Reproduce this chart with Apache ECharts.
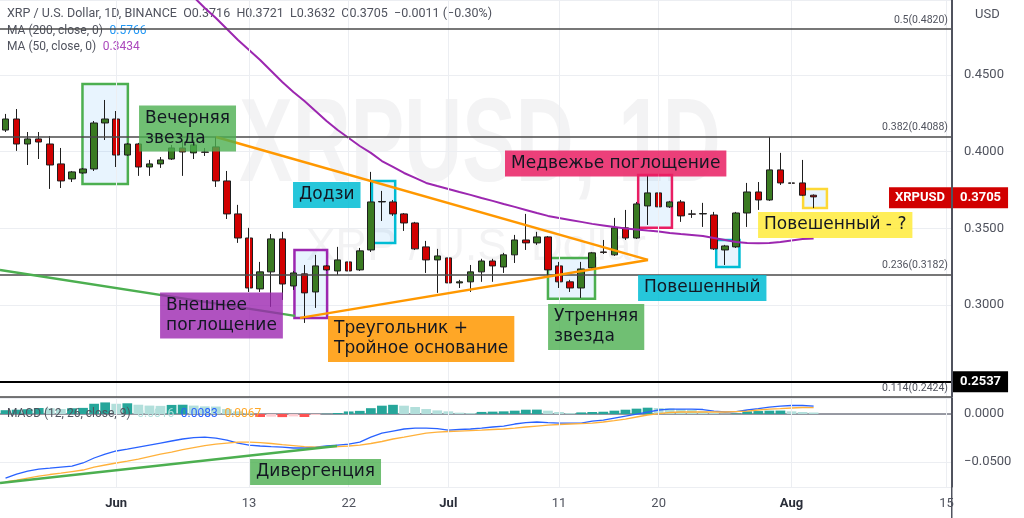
<!DOCTYPE html>
<html>
<head>
<meta charset="utf-8">
<title>XRPUSD 1D</title>
<script src="https://cdn.jsdelivr.net/npm/echarts@6/dist/echarts.min.js"></script>
<style>
html,body{margin:0;padding:0;background:#fff}
#chart{width:1024px;height:518px}
</style>
</head>
<body>
<div id="chart"></div>
<script>
// дневные свечи XRP/USD, первая свеча 22 мая, ось до 15 августа
const startDate = '2022-05-22'
const dayCount = 86

const opens = [0.4141,0.4213,0.4050,0.4083,0.4050,0.3920,0.3822,0.3861,0.3887,0.4187,
  0.4213,0.3978,0.4050,0.3900,0.3920,0.3952,0.4024,0.3992,0.3998,0.4031,
  0.3809,0.3594,0.3437,0.3105,0.3216,0.3431,0.3124,0.3203,0.3085,0.3255,
  0.3222,0.3281,0.3229,0.3359,0.3672,0.3672,0.3594,0.3535,0.3379,0.3294,
  0.3307,0.3144,0.3151,0.3216,0.3287,0.3248,0.3327,0.3424,0.3405,0.3444,
  0.3255,0.3151,0.3111,0.3242,0.3346,0.3327,0.3503,0.3437,0.3646,0.3731,
  0.3640,0.3672,0.3594,0.3594,0.3587,0.3359,0.3379,0.3600,0.3737,0.3685,
  0.3881,0.3796,0.3796,0.3716]
const closes = [0.4213,0.4050,0.4083,0.4063,0.3913,0.3809,0.3868,0.3887,0.4187,0.4213,
  0.3978,0.4050,0.3900,0.3920,0.3946,0.4024,0.3998,0.4044,0.3996,0.3809,
  0.3594,0.3437,0.3111,0.3216,0.3431,0.3137,0.3209,0.3079,0.3255,0.3229,
  0.3294,0.3222,0.3353,0.3672,0.3675,0.3594,0.3535,0.3366,0.3294,0.3320,
  0.3144,0.3151,0.3216,0.3287,0.3255,0.3327,0.3424,0.3405,0.3444,0.3229,
  0.3151,0.3111,0.3235,0.3340,0.3343,0.3503,0.3437,0.3659,0.3731,0.3640,
  0.3672,0.3581,0.3592,0.3596,0.3366,0.3385,0.3600,0.3737,0.3685,0.3881,
  0.3796,0.3794,0.3716,0.3705]
const lows = [0.4128,0.4005,0.3913,0.3952,0.3757,0.3763,0.3802,0.3855,0.3874,0.4076,
  0.3900,0.3972,0.3842,0.3842,0.3894,0.3946,0.3842,0.3952,0.3972,0.3770,
  0.3561,0.3405,0.3085,0.3085,0.2988,0.3033,0.3098,0.2883,0.2981,0.3222,
  0.3196,0.3196,0.3222,0.3346,0.3548,0.3581,0.3483,0.3359,0.3209,0.3079,
  0.3118,0.3111,0.3085,0.3151,0.3151,0.3209,0.3274,0.3359,0.3392,0.3183,
  0.3111,0.3085,0.3046,0.3229,0.3333,0.3320,0.3424,0.3431,0.3522,0.3587,
  0.3633,0.3542,0.3568,0.3509,0.3359,0.3261,0.3372,0.3509,0.3620,0.3679,
  0.3783,0.3718,0.3710,0.3632]
const highs = [0.4246,0.4278,0.4128,0.4128,0.4102,0.4024,0.3874,0.3894,0.4200,0.4337,
  0.4265,0.4057,0.4057,0.3946,0.3965,0.4044,0.4076,0.4076,0.4024,0.4096,
  0.3874,0.3653,0.3503,0.3281,0.3463,0.3477,0.3222,0.3261,0.3327,0.3261,
  0.3379,0.3287,0.3372,0.3868,0.3744,0.3685,0.3600,0.3542,0.3418,0.3366,
  0.3366,0.3164,0.3261,0.3301,0.3301,0.3340,0.3457,0.3594,0.3477,0.3450,
  0.3281,0.3164,0.3281,0.3346,0.3424,0.3568,0.3620,0.3672,0.3848,0.3816,
  0.3679,0.3685,0.3620,0.3666,0.3607,0.3392,0.3607,0.3796,0.3802,0.4096,
  0.3992,0.3868,0.3946,0.3721]

// MA 50 (начало выше видимой области)
const ma50 = [null,null,null,null,null,null,null,null,null,null,
  null,null,0.5380,0.5300,0.5230,0.5158,0.5080,0.5008,0.4937,0.4872,
  0.4800,0.4728,0.4663,0.4598,0.4526,0.4454,0.4389,0.4330,0.4265,0.4200,
  0.4141,0.4089,0.4037,0.3992,0.3939,0.3900,0.3861,0.3829,0.3796,0.3776,
  0.3757,0.3737,0.3718,0.3698,0.3679,0.3659,0.3640,0.3620,0.3600,0.3581,
  0.3568,0.3555,0.3542,0.3529,0.3519,0.3509,0.3499,0.3493,0.3486,0.3480,
  0.3470,0.3463,0.3457,0.3450,0.3437,0.3424,0.3411,0.3405,0.3402,0.3405,
  0.3411,0.3421,0.3431,0.3434]
const ma200Last = 0.5766

// MACD (12, 26, close, 9)
const macdLine = [-0.0667,-0.0625,-0.0594,-0.0573,-0.0563,-0.0552,-0.0542,-0.0510,-0.0458,-0.0417,
  -0.0385,-0.0365,-0.0344,-0.0323,-0.0302,-0.0281,-0.0260,-0.0245,-0.0240,-0.0250,
  -0.0271,-0.0302,-0.0323,-0.0333,-0.0339,-0.0344,-0.0354,-0.0354,-0.0344,-0.0333,
  -0.0323,-0.0313,-0.0292,-0.0240,-0.0198,-0.0177,-0.0156,-0.0146,-0.0146,-0.0151,
  -0.0167,-0.0161,-0.0156,-0.0146,-0.0135,-0.0125,-0.0104,-0.0089,-0.0083,-0.0089,
  -0.0094,-0.0094,-0.0094,-0.0073,-0.0063,-0.0042,-0.0021,0.0000,0.0021,0.0042,
  0.0052,0.0052,0.0052,0.0047,0.0031,0.0021,0.0026,0.0042,0.0057,0.0073,
  0.0083,0.0089,0.0089,0.0083]
const signalLine = [-0.0708,-0.0688,-0.0667,-0.0646,-0.0630,-0.0615,-0.0599,-0.0583,-0.0552,-0.0531,
  -0.0510,-0.0490,-0.0469,-0.0443,-0.0417,-0.0396,-0.0370,-0.0349,-0.0328,-0.0313,
  -0.0302,-0.0292,-0.0292,-0.0297,-0.0307,-0.0318,-0.0328,-0.0339,-0.0344,-0.0344,
  -0.0339,-0.0333,-0.0323,-0.0307,-0.0286,-0.0260,-0.0240,-0.0219,-0.0198,-0.0188,
  -0.0182,-0.0177,-0.0172,-0.0167,-0.0161,-0.0156,-0.0146,-0.0135,-0.0125,-0.0115,
  -0.0109,-0.0104,-0.0099,-0.0094,-0.0083,-0.0068,-0.0052,-0.0031,-0.0010,0.0005,
  0.0016,0.0021,0.0021,0.0021,0.0021,0.0021,0.0026,0.0031,0.0042,0.0052,
  0.0057,0.0063,0.0068,0.0067]
const histogram = [0.0040,0.0045,0.0050,0.0063,0.0060,0.0052,0.0060,0.0064,0.0107,0.0121,
  0.0107,0.0112,0.0097,0.0088,0.0085,0.0095,0.0097,0.0088,0.0080,0.0078,
  0.0052,0.0028,0.0010,-0.0031,-0.0028,-0.0032,-0.0025,-0.0031,-0.0010,0.0003,
  0.0011,0.0027,0.0033,0.0061,0.0087,0.0096,0.0087,0.0073,0.0052,0.0038,
  0.0028,0.0014,0.0010,0.0022,0.0025,0.0028,0.0035,0.0045,0.0046,0.0035,
  0.0021,0.0010,0.0017,0.0021,0.0024,0.0035,0.0045,0.0056,0.0066,0.0063,
  0.0059,0.0052,0.0045,0.0028,0.0010,0.0004,0.0006,0.0028,0.0031,0.0035,
  0.0036,0.0028,0.0021,0.0016]

// подписи оси дат
const tickDates = ['2022-06-01','2022-06-13','2022-06-22','2022-07-01','2022-07-11','2022-07-20','2022-08-01','2022-08-15']
const tickLabels = ['Jun','13','22','Jul','11','20','Aug','15']
const monthLabels = ['Jun','Jul','Aug']
const priceTicks = [0.30,0.35,0.40,0.45]
const macdTicks = [0,-0.05]

// уровни Фибоначчи и поддержка
const fibRatios = ['0.5','0.382','0.236','0.114']
const fibPrices = [0.4820,0.4088,0.3182,0.2424]
const supportPrice = 0.2537

// паттерны: [индекс дня, цена] углов рамок
const boxFrom = [[6.95,0.4441],[26.1,0.3359],[33.1,0.3809],[49.0,0.3307],[57.15,0.3848],[64.2,0.3424],[72.05,0.3757]]
const boxTo   = [[11.05,0.3789],[29.05,0.2916],[35.2,0.3405],[53.25,0.3040],[60.2,0.3503],[66.3,0.3248],[74.2,0.3633]]
const boxColors = ['#4caf50','#9c27b0','#00bcd4','#4caf50','#e91e63','#00bcd4','#fdd835']

const noteTexts = ['Вечерняя\nзвезда','Додзи','Внешнее\nпоглощение','Треугольник +\nТройное основание','Утренняя\nзвезда','Медвежье поглощение','Повешенный','Повешенный - ?']
const noteAnchors = [[12.06,0.4151],[25.97,0.3718],[13.96,0.2932],[29.13,0.2779],[49.01,0.2857],[45.12,0.3923],[57.14,0.3111],[67.98,0.3522]]
const noteColors = ['rgba(76,175,80,0.8)','rgba(0,188,212,0.85)','rgba(156,39,176,0.8)','rgba(255,152,0,0.85)','rgba(76,175,80,0.8)','rgba(233,30,99,0.85)','rgba(0,188,212,0.85)','rgba(255,235,59,0.85)']

// трендовые линии
const triangleTop = [[19.02,0.4096],[58.04,0.3294]]
const triangleBottom = [[26.6,0.2916],[58.04,0.3294]]
const priceTrend = [[-0.5,0.3229],[26.15,0.2929]]
const macdTrend = [[-0.5,-0.0719],[29.95,-0.0333]]
const divergenceAnchor = [22.09,-0.0604]

const dates = []
for(let i = 0; i < dayCount; i++){
    const d = new Date(startDate + 'T00:00:00Z')
    d.setUTCDate(d.getUTCDate() + i)
    dates.push(d.toISOString().slice(0,10))
}
const candles = opens.map((o,i)=>[o, closes[i], lows[i], highs[i]])
const last = closes.length - 1
const gridIdx = tickDates.map(d=>dates.indexOf(d))

const minus = v => (v < 0 ? '\u2212' : '') + Math.abs(v).toFixed(4)
const chg = closes[last] - closes[last - 1]
const chgPct = chg / closes[last - 1] * 100

// цвет столбца гистограммы как в TradingView
const histColor = (v,i)=>{
    const prev = i > 0 ? histogram[i - 1] : v
    if(v >= 0) return v >= prev ? '#26a69a' : '#b2dfdb'
    return v < prev ? '#ff5252' : '#ffcdd2'
}

const fontSans = 'Roboto, "Liberation Sans", sans-serif'
const noteFont = '"DejaVu Sans", Verdana, sans-serif'

const chart = echarts.init(document.getElementById('chart'))

const option = {
    animation:false,
    backgroundColor:'#ffffff',
    textStyle:{fontFamily:fontSans},
    grid:[
        {left:0, right:72, top:0, height:397},
        {left:0, right:72, top:398, height:89}
    ],
    xAxis:[
        {type:'category', gridIndex:0, data:dates, boundaryGap:true,
         axisLine:{lineStyle:{color:'#e0e3eb'}}, axisTick:{show:false}, axisLabel:{show:false}, splitLine:{show:false}},
        {type:'category', gridIndex:1, data:dates, boundaryGap:true,
         axisLine:{lineStyle:{color:'#787b86', width:1.5}}, axisTick:{show:false}, splitLine:{show:false},
         axisLabel:{
            interval:(i,v)=>tickDates.includes(v),
            formatter:(v)=>{
                const t = tickLabels[tickDates.indexOf(v)]
                return monthLabels.includes(t) ? '{m|' + t + '}' : t
            },
            color:'#50535e', fontSize:13, margin:10,
            rich:{m:{fontWeight:'bold', color:'#2a2e39', fontSize:13}}
         }},
        {type:'value', gridIndex:0, min:-0.5, max:dayCount - 0.5, show:false},
        {type:'value', gridIndex:1, min:-0.5, max:dayCount - 0.5, show:false}
    ],
    yAxis:[
        {type:'value', gridIndex:0, position:'right', min:0.24, max:0.4989, scale:true,
         axisLine:{show:true, onZero:false, lineStyle:{color:'#50535e'}}, axisTick:{show:false},
         axisLabel:{color:'#50535e', fontSize:13, margin:12, showMinLabel:false, showMaxLabel:false,
            formatter:v=>priceTicks.some(t=>Math.abs(t - v) < 1e-6) ? v.toFixed(4) : ''},
         splitLine:{lineStyle:{color:'#eceef2'}}},
        {type:'value', gridIndex:1, position:'right', min:-0.076, max:0.0167, splitNumber:2,
         axisLine:{show:true, onZero:false, lineStyle:{color:'#50535e'}}, axisTick:{show:false},
         axisLabel:{color:'#50535e', fontSize:13, margin:12, showMinLabel:false, showMaxLabel:false,
            formatter:v=>macdTicks.some(t=>Math.abs(t - v) < 1e-6) ? minus(v) : ''},
         splitLine:{lineStyle:{color:'#eceef2'}}}
    ],
    graphic:[
        {type:'text', x:480, y:148, scaleX:0.68, z:-10,
         style:{text:'XRPUSD, 1D', textAlign:'center', textVerticalAlign:'middle',
            font:'bold 118px "Liberation Sans"', fill:'rgba(120,123,134,0.09)'}},
        {type:'text', x:476, y:248, z:-10,
         style:{text:'XRP / U.S. Dollar', textAlign:'center', textVerticalAlign:'middle',
            font:'44px "Liberation Sans"', fill:'rgba(120,123,134,0.09)'}},
        {type:'text', left:7, top:7, z:1,
         style:{text:'XRP / U.S. Dollar, 1D, BINANCE  O' + opens[last].toFixed(4) + '  H' + highs[last].toFixed(4) +
            '  L' + lows[last].toFixed(4) + '  C' + closes[last].toFixed(4) + '  ' + minus(chg) + ' (' +
            (chgPct < 0 ? '\u2212' : '') + Math.abs(chgPct).toFixed(2) + '%)',
            font:'12.5px ' + fontSans, fill:'#50535e'}},
        {type:'text', left:7, top:25, z:1,
         style:{text:'{t|MA (200, close, 0)}  {b|' + ma200Last.toFixed(4) + '}',
            rich:{t:{fill:'#50535e', fontSize:12, fontFamily:fontSans}, b:{fill:'#2196f3', fontSize:12, fontFamily:fontSans}}}},
        {type:'text', left:7, top:41, z:1,
         style:{text:'{t|MA (50, close, 0)}  {p|' + ma50[last].toFixed(4) + '}',
            rich:{t:{fill:'#50535e', fontSize:12, fontFamily:fontSans}, p:{fill:'#ab47bc', fontSize:12, fontFamily:fontSans}}}},
        {type:'text', left:7, top:408, z:10,
         style:{text:'{t|MACD (12, 26, close, 9)}  {h|' + histogram[last].toFixed(4) + '}  {m|' + macdLine[last].toFixed(4) + '}  {s|' + signalLine[last].toFixed(4) + '}',
            rich:{t:{fill:'#50535e', fontSize:12, fontFamily:fontSans}, h:{fill:'#b2dfdb', fontSize:12, fontFamily:fontSans},
                  m:{fill:'#2962ff', fontSize:12, fontFamily:fontSans}, s:{fill:'#ffa726', fontSize:12, fontFamily:fontSans}}}},
        {type:'text', left:975, top:8, z:10,
         style:{text:'USD', font:'13px ' + fontSans, fill:'#50535e'}},
        // граница шкалы цены
        {type:'rect', left:951, top:0, z:10, silent:true,
         shape:{width:1.5, height:518}, style:{fill:'#50535e'}}
    ],
    series:[
        // вертикальная сетка по подписям дат
        {type:'line', xAxisIndex:2, yAxisIndex:0, data:[], z:1, silent:true,
         markLine:{symbol:['none','none'], silent:true, label:{show:false},
            lineStyle:{color:'#eceef2', type:'solid', width:1},
            data:gridIdx.map(v=>({xAxis:v}))}},
        {type:'line', xAxisIndex:3, yAxisIndex:1, data:[], z:1, silent:true,
         markLine:{symbol:['none','none'], silent:true, label:{show:false},
            lineStyle:{color:'#eceef2', type:'solid', width:1},
            data:gridIdx.map(v=>({xAxis:v}))}},
        {
            name:'XRPUSD', type:'candlestick', xAxisIndex:0, yAxisIndex:0, data:candles, barWidth:7, z:3,
            itemStyle:{color:'#3a7a22', color0:'#d10000', borderColor:'#1e1e1e', borderColor0:'#1e1e1e', borderWidth:1},
            markLine:{
                symbol:['none','none'], silent:true,
                data:[
                    ...fibPrices.map((p,k)=>({yAxis:p,
                        lineStyle:{color:'#4a4a4a', width:1.5, type:'solid'},
                        label:{position:'insideEndTop', formatter:fibRatios[k] + '(' + p.toFixed(4) + ')',
                            color:'#50535e', fontSize:10.5, distance:[4,3]}})),
                    {yAxis:supportPrice, lineStyle:{color:'#000', width:2, type:'solid'},
                     label:{position:'end', formatter:supportPrice.toFixed(4), backgroundColor:'#000', color:'#fff',
                        fontSize:13, fontWeight:'bold', padding:[4,7], distance:1}},
                    {yAxis:closes[last], lineStyle:{color:'rgba(0,0,0,0)', width:0},
                     label:{position:'end', formatter:closes[last].toFixed(4), backgroundColor:'#d10000', color:'#fff',
                        fontSize:13, fontWeight:'bold', padding:[4,7], distance:1}},
                    {yAxis:closes[last], lineStyle:{color:'rgba(0,0,0,0)', width:0},
                     label:{position:'insideEnd', formatter:'XRPUSD', backgroundColor:'#d10000', color:'#fff',
                        fontSize:13, fontWeight:'bold', padding:[4,6], distance:1}}
                ]
            }
        },
        {name:'MA50', type:'line', xAxisIndex:0, yAxisIndex:0, data:ma50, symbol:'none', z:4,
         lineStyle:{color:'#9c27b0', width:2}},
        // разметка паттернов
        {
            type:'line', xAxisIndex:2, yAxisIndex:0, data:[], z:6, silent:true,
            markArea:{
                silent:true,
                data:boxFrom.map((f,k)=>[
                    {coord:f, itemStyle:{color:'rgba(33,150,243,0.1)', borderColor:boxColors[k], borderWidth:2.5}},
                    {coord:boxTo[k]}
                ])
            },
            markLine:{
                symbol:['none','none'], silent:true, label:{show:false},
                data:[
                    [{coord:triangleTop[0], lineStyle:{color:'#ff9800', width:2.5, type:'solid'}}, {coord:triangleTop[1]}],
                    [{coord:triangleBottom[0], lineStyle:{color:'#ff9800', width:2.5, type:'solid'}}, {coord:triangleBottom[1]}],
                    [{coord:priceTrend[0], lineStyle:{color:'#4caf50', width:2.5, type:'solid'}}, {coord:priceTrend[1]}]
                ]
            },
            markPoint:{
                symbol:'circle', symbolSize:1, silent:true,
                itemStyle:{color:'rgba(0,0,0,0)'},
                data:noteTexts.map((t,k)=>({
                    coord:noteAnchors[k],
                    label:{show:true, position:'inside', align:'left', verticalAlign:'middle',
                        formatter:t, color:'#131722', fontSize:17, lineHeight:20, fontFamily:noteFont,
                        backgroundColor:noteColors[k], padding:[3,6,3,6]}
                }))
            }
        },
        // MACD
        {name:'Histogram', type:'bar', xAxisIndex:1, yAxisIndex:1, barCategoryGap:'12%', z:2,
         data:histogram.map((v,i)=>({value:v, itemStyle:{color:histColor(v,i)}}))},
        {name:'MACD', type:'line', xAxisIndex:1, yAxisIndex:1, data:macdLine, symbol:'none', z:3,
         lineStyle:{color:'#2962ff', width:1.3}},
        {name:'Signal', type:'line', xAxisIndex:1, yAxisIndex:1, data:signalLine, symbol:'none', z:3,
         lineStyle:{color:'#ffb13b', width:1.3}},
        {
            type:'line', xAxisIndex:3, yAxisIndex:1, data:[], z:6, silent:true,
            markLine:{
                symbol:['none','none'], silent:true, label:{show:false},
                data:[[{coord:macdTrend[0], lineStyle:{color:'#4caf50', width:2.5, type:'solid'}}, {coord:macdTrend[1]}]]
            },
            markPoint:{
                symbol:'circle', symbolSize:1, silent:true,
                itemStyle:{color:'rgba(0,0,0,0)'},
                data:[{coord:divergenceAnchor,
                    label:{show:true, position:'inside', align:'left', verticalAlign:'middle',
                        formatter:'Дивергенция', color:'#131722', fontSize:17, lineHeight:20, fontFamily:noteFont,
                        backgroundColor:'rgba(76,175,80,0.8)', padding:[3,6,3,6]}}]
            }
        }
    ]
}
chart.setOption(option)
</script>
</body>
</html>
